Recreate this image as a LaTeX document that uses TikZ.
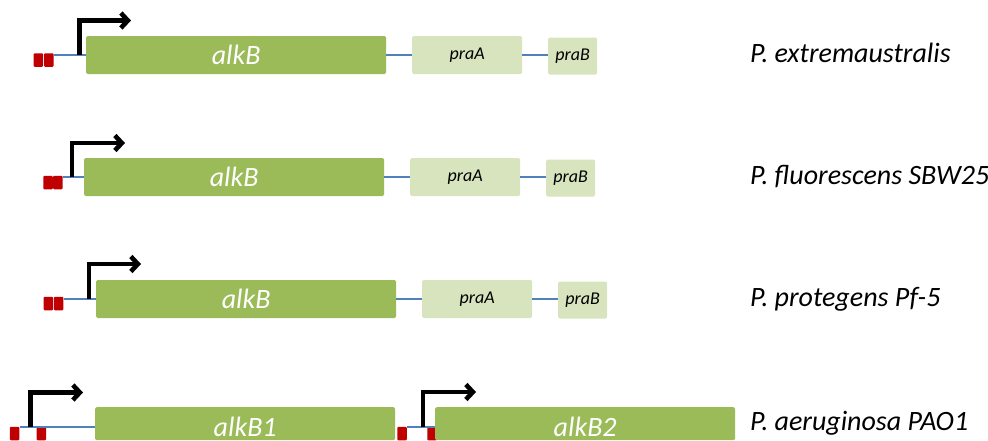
\documentclass[tikz,border=0pt]{standalone}
\usepackage{fontspec}
\setmainfont{Carlito}
\usetikzlibrary{arrows.meta}
\definecolor{gdark}{HTML}{9BBB59}
\definecolor{glight}{HTML}{D7E4BD}
\definecolor{rbox}{HTML}{C00000}
\definecolor{dna}{HTML}{4F81BD}
\tikzset{
  gene/.style={fill=gdark, draw=none, rounded corners=1.5pt, minimum height=38pt, minimum width=300pt, inner sep=0pt, anchor=west, text=white, font=\itshape\fontsize{28}{28}\selectfont},
  genelabel/.style={inner sep=0pt, text=white, font=\itshape\fontsize{28}{28}\selectfont},
  small/.style={fill=glight, draw=none, rounded corners=1.5pt, minimum height=38pt, minimum width=110pt, inner sep=0pt, anchor=west, text=black, font=\itshape\fontsize{18}{18}\selectfont},
  tiny/.style={small, minimum width=49pt, minimum height=37pt},
  site/.style={fill=rbox, draw=none, rounded corners=1pt, minimum width=9.5pt, minimum height=13.5pt, inner sep=0pt},
  dnaline/.style={draw=dna, line width=1.2pt},
  prom/.style={draw=black, line width=4.6pt, -{Straight Barb[length=7pt,width=15pt]}},
  org/.style={anchor=west, inner sep=0pt, font=\itshape\fontsize{28}{28}\selectfont}
}
\begin{document}
\begin{tikzpicture}[x=1pt,y=-1pt]
\useasboundingbox (0,0) rectangle (988,440);
\clip (0,0) rectangle (988,440);
% Row 1
\node[site] (r1a) at (38.3,60) {};
\node[site] (r1b) at (48.8,60) {};
\node[gene] (g1) at (86,55) {alkB};
\node[small] (a1) at (412,55) {praA};
\node[tiny] (b1) at (548,56) {praB};
\draw[dnaline] (r1b.east |- g1.west) -- (g1.west);
\draw[dnaline] (g1.east) -- (a1.west);
\draw[dnaline] (a1.east) -- (a1.east -| b1.west);
\coordinate (p1) at (79.5,55);
\coordinate (t1) at (131,20.5);
\draw[prom] (p1) |- (t1);
\node[org] (o1) at (750,53) {P. extremaustralis};
% Row 2
\node[site] (r2a) at (48,182.5) {};
\node[site] (r2b) at (57.8,182.5) {};
\node[gene] (g2) at (84,177) {alkB};
\node[small] (a2) at (410,177) {praA};
\node[tiny] (b2) at (546,178) {praB};
\draw[dnaline] (r2b.east |- g2.west) -- (g2.west);
\draw[dnaline] (g2.east) -- (a2.west);
\draw[dnaline] (a2.east) -- (a2.east -| b2.west);
\coordinate (p2) at (72,177);
\coordinate (t2) at (125,143);
\draw[prom] (p2) |- (t2);
\node[org] (o2) at (750,177) {P. fluorescens SBW25};
% Row 3
\node[site] (r3a) at (48.3,303.5) {};
\node[site] (r3b) at (58.7,303.5) {};
\node[gene] (g3) at (96,299) {alkB};
\node[small] (a3) at (422,299) {praA};
\node[tiny] (b3) at (558,300) {praB};
\draw[dnaline] (r3b.east |- g3.west) -- (g3.west);
\draw[dnaline] (g3.east) -- (a3.west);
\draw[dnaline] (a3.east) -- (a3.east -| b3.west);
\coordinate (p3) at (89,299);
\coordinate (t3) at (141,264);
\draw[prom] (p3) |- (t3);
\node[org] (o3) at (750,299) {P. protegens Pf-5};
% Row 4
\node[site] (r4a) at (14.7,433.5) {};
\node[site] (r4b) at (41.3,433.5) {};
\node[gene, minimum height=33pt, anchor=north west] (g4) at (95,407) {};
\node[genelabel] (l4) at (g4.center |- 0,426.5) {alkB1};
\node[site] (r4c) at (402,433.5) {};
\node[site] (r4d) at (432,433.5) {};
\node[gene, minimum height=33pt, anchor=north west] (g5) at (435,407) {};
\node[genelabel] (l5) at (g5.center |- 0,426.5) {alkB2};
\draw[dnaline] (r4a.east |- 0,427) -- (g4.west |- 0,427);
\draw[dnaline] (r4c.east |- 0,427) -- (g5.west |- 0,427);
\coordinate (p4) at (30.5,427);
\coordinate (t4) at (83,392.5);
\draw[prom] (p4) |- (t4);
\coordinate (p5) at (423,427);
\coordinate (t5) at (476,392);
\draw[prom] (p5) |- (t5);
\node[org] (o4) at (750,423) {P. aeruginosa PAO1};
\end{tikzpicture}
\end{document}
